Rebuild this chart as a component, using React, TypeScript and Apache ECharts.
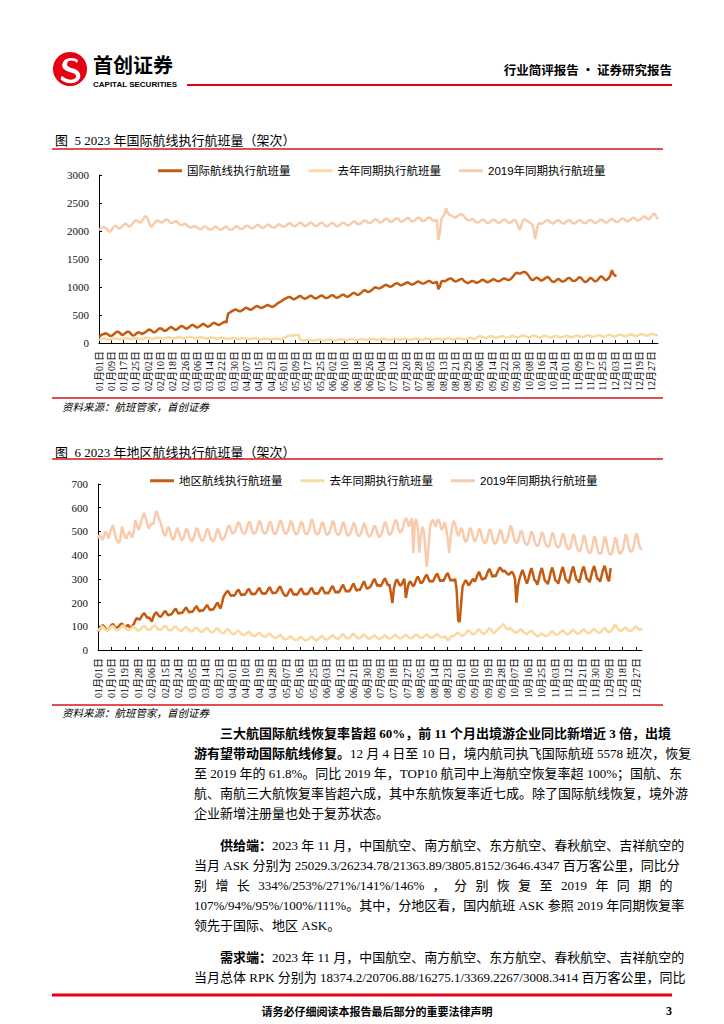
import React, { useEffect, useRef } from "react";
import * as echarts from "echarts";

// ---------- DATA ----------
const MONTH_DAYS = [31, 28, 31, 30, 31, 30, 31, 31, 30, 31, 30, 31];
const pad = (n: number) => String(n).padStart(2, "0");
const dates: string[] = [];
MONTH_DAYS.forEach((d, m) => {
  for (let i = 1; i <= d; i++) dates.push(`${pad(m + 1)}月${pad(i)}日`);
});

const intlNames = ["国际航线执行航班量", "去年同期执行航班量", "2019年同期执行航班量"];
const regNames = ["地区航线执行航班量", "去年同期执行航班量", "2019年同期执行航班量"];

// 图5: 2023 international flights (to ~Dec 3)
const intl2023 = [
  113, 130, 150, 160, 173, 165, 150,
  128, 125, 140, 165, 190, 202, 195,
  170, 143, 150, 175, 195, 202, 190,
  160, 131, 140, 160, 185, 190, 180,
  160, 175, 190, 210, 232, 240, 225,
  200, 190, 205, 230, 255, 262, 250,
  225, 215, 230, 250, 275, 285, 270,
  245, 235, 250, 270, 295, 305, 290,
  265, 255, 270, 290, 315, 325, 310,
  285, 275, 290, 305, 330, 340, 325,
  300, 290, 305, 325, 350, 362, 345,
  330, 320, 335, 350, 370, 380, 365,
  520, 540, 560, 575, 590, 600, 585,
  570, 565, 580, 600, 620, 630, 615,
  600, 595, 610, 630, 650, 660, 645,
  630, 625, 640, 655, 670, 680, 665,
  650, 645, 660, 680, 700, 720, 735,
  750, 770, 790, 800, 815, 825, 810,
  790, 780, 795, 810, 830, 840, 825,
  800, 790, 800, 815, 835, 845, 830,
  805, 795, 805, 820, 840, 850, 835,
  810, 800, 812, 825, 845, 855, 840,
  815, 805, 820, 835, 855, 865, 850,
  830, 825, 840, 860, 885, 895, 880,
  860, 860, 880, 905, 930, 945, 930,
  910, 915, 935, 955, 980, 995, 985,
  975, 980, 995, 1010, 1030, 1040, 1025,
  1010, 1005, 1020, 1040, 1060, 1070, 1055,
  1035, 1030, 1045, 1060, 1075, 1085, 1070,
  1050, 1045, 1055, 1070, 1090, 1100, 1085,
  1065, 1060, 1070, 1085, 1100, 1110, 1095,
  1075, 1070, 1080, 1095, 960, 1010, 1100,
  1110, 1100, 1115, 1130, 1145, 1155, 1140,
  1110, 1100, 1105, 1120, 1135, 1145, 1130,
  1100, 1085, 1070, 1080, 1095, 1110, 1100,
  1085, 1075, 1085, 1100, 1120, 1130, 1115,
  1095, 1085, 1095, 1110, 1130, 1140, 1125,
  1110, 1100, 1110, 1125, 1145, 1155, 1140,
  1130, 1125, 1140, 1165, 1200, 1235, 1255,
  1245, 1240, 1250, 1265, 1270, 1255, 1230,
  1190, 1150, 1125, 1130, 1150, 1170, 1155,
  1130, 1115, 1125, 1145, 1165, 1180, 1165,
  1130, 1100, 1090, 1100, 1125, 1145, 1130,
  1105, 1095, 1105, 1125, 1150, 1165, 1150,
  1120, 1105, 1110, 1130, 1160, 1175, 1160,
  1125, 1095, 1090, 1105, 1140, 1165, 1150,
  1120, 1100, 1110, 1135, 1170, 1190, 1175,
  1140, 1120, 1135, 1160, 1210, 1300, 1230,
  1205, 1195,
];

const intlLastYear = [
  55, 65, 75, 80, 78, 70, 62,
  60, 68, 78, 85, 82, 75, 68,
  65, 72, 82, 88, 85, 78, 70,
  66, 74, 84, 90, 86, 78, 72,
  70, 78, 88, 95, 90, 82, 75,
  72, 80, 90, 98, 94, 86, 78,
  75, 84, 95, 102, 98, 90, 82,
  80, 90, 100, 108, 104, 95, 88,
  82, 92, 102, 110, 106, 96, 88,
  80, 88, 98, 104, 100, 92, 84,
  76, 84, 94, 100, 96, 88, 80,
  72, 80, 90, 96, 92, 84, 76,
  70, 78, 86, 92, 88, 80, 72,
  68, 75, 84, 90, 86, 78, 70,
  66, 72, 80, 86, 82, 74, 68,
  62, 68, 76, 80, 78, 70, 64,
  60, 66, 74, 80, 76, 70, 64,
  70, 85, 100, 115, 125, 130, 128,
  135, 140, 145, 142, 138, 60, 48,
  45, 50, 55, 60, 58, 52, 48,
  45, 50, 56, 62, 60, 54, 48,
  46, 52, 58, 64, 62, 56, 50,
  48, 54, 60, 66, 64, 58, 52,
  50, 56, 62, 68, 66, 60, 54,
  50, 56, 64, 70, 68, 62, 55,
  52, 58, 66, 72, 70, 64, 56,
  52, 60, 68, 74, 70, 64, 58,
  54, 60, 68, 75, 72, 66, 58,
  55, 62, 70, 76, 74, 68, 60,
  56, 62, 70, 78, 75, 68, 60,
  58, 64, 72, 80, 76, 70, 62,
  58, 65, 74, 80, 78, 70, 63,
  60, 66, 75, 82, 80, 72, 65,
  62, 68, 78, 85, 82, 75, 68,
  65, 72, 82, 90, 88, 80, 72,
  80, 95, 110, 120, 118, 105, 95,
  90, 100, 112, 122, 118, 108, 98,
  92, 102, 114, 124, 120, 110, 100,
  95, 105, 118, 128, 124, 112, 102,
  100, 112, 125, 135, 130, 118, 108,
  100, 110, 122, 132, 128, 116, 106,
  98, 108, 120, 130, 126, 114, 104,
  96, 106, 118, 128, 124, 112, 102,
  100, 110, 122, 132, 128, 116, 106,
  102, 112, 124, 134, 130, 118, 108,
  105, 116, 128, 138, 134, 122, 112,
  108, 120, 132, 142, 138, 126, 116,
  112, 124, 136, 146, 142, 130, 120,
  116, 128, 140, 150, 146, 134, 124,
  120, 132, 144, 154, 150, 138, 128,
  124, 136, 148, 158, 154, 142, 132,
  128, 140, 152, 165, 160, 148, 140,
  138,
];

const intl2019 = [
  2018, 2040, 2060, 2075, 2060, 2040, 2000,
  1985, 2010, 2050, 2085, 2095, 2070, 2040,
  2050, 2080, 2110, 2135, 2120, 2090, 2080,
  2100, 2140, 2175, 2195, 2180, 2160, 2150,
  2180, 2220, 2265, 2250, 2200, 2120, 2075,
  2100, 2140, 2170, 2190, 2175, 2160, 2150,
  2170, 2195, 2210, 2195, 2160, 2140, 2150,
  2160, 2175, 2160, 2130, 2110, 2100, 2120,
  2130, 2110, 2080, 2070, 2060, 2075, 2090,
  2080, 2060, 2040, 2030, 2045, 2070, 2085,
  2065, 2040, 2030, 2025, 2040, 2070, 2080,
  2060, 2035, 2025, 2030, 2050, 2075, 2080,
  2050, 2030, 2020, 2030, 2055, 2080, 2085,
  2060, 2040, 2035, 2050, 2075, 2095, 2090,
  2070, 2055, 2050, 2065, 2090, 2110, 2105,
  2080, 2060, 2055, 2070, 2095, 2115, 2105,
  2080, 2065, 2060, 2075, 2100, 2120, 2110,
  2090, 2075, 2080, 2100, 2125, 2140, 2130,
  2100, 2085, 2090, 2110, 2135, 2150, 2140,
  2105, 2090, 2095, 2115, 2140, 2150, 2135,
  2100, 2085, 2095, 2115, 2140, 2150, 2135,
  2100, 2085, 2090, 2110, 2135, 2145, 2130,
  2095, 2080, 2090, 2110, 2135, 2150, 2140,
  2110, 2100, 2110, 2130, 2155, 2170, 2160,
  2130, 2120, 2130, 2150, 2175, 2190, 2180,
  2150, 2140, 2150, 2170, 2195, 2210, 2200,
  2165, 2150, 2160, 2180, 2205, 2220, 2210,
  2175, 2160, 2170, 2190, 2215, 2230, 2215,
  2180, 2165, 2175, 2195, 2220, 2235, 2220,
  2185, 2170, 2180, 2200, 2225, 2240, 2225,
  2190, 2175, 2185, 2205, 2230, 2245, 2230,
  2195, 2180, 2190, 2200, 1840, 1980, 2220,
  2260, 2300, 2410, 2330, 2290, 2280, 2270,
  2250, 2240, 2255, 2275, 2295, 2300, 2285,
  2250, 2220, 2200, 2190, 2200, 2215, 2200,
  2170, 2150, 2155, 2170, 2195, 2205, 2190,
  2160, 2140, 2150, 2170, 2195, 2205, 2190,
  2160, 2140, 2150, 2170, 2195, 2205, 2190,
  2160, 2145, 2150, 2170, 2195, 2200, 2150,
  2080, 2020, 2100, 2180, 2210, 2200, 2180,
  2160, 2140, 2120, 2040, 1857, 2000, 2130,
  2140, 2130, 2140, 2160, 2185, 2195, 2180,
  2150, 2135, 2140, 2160, 2185, 2195, 2180,
  2150, 2135, 2140, 2160, 2185, 2195, 2180,
  2150, 2135, 2140, 2160, 2185, 2195, 2180,
  2155, 2140, 2145, 2165, 2190, 2200, 2185,
  2160, 2145, 2150, 2170, 2195, 2205, 2190,
  2165, 2150, 2155, 2180, 2205, 2215, 2200,
  2175, 2160, 2165, 2190, 2215, 2225, 2210,
  2185, 2170, 2180, 2200, 2230, 2240, 2225,
  2200, 2185, 2195, 2215, 2245, 2260, 2245,
  2220, 2210, 2230, 2270, 2310, 2300, 2250,
  2210,
];

// 图6: 2023 regional flights (to ~Dec 10)
const reg2023 = [
  77, 85, 95, 105, 100, 90, 84,
  86, 95, 105, 110, 100, 92, 96,
  100, 108, 112, 104, 96, 100, 106,
  98, 95, 100, 110, 125, 135, 130,
  128, 140, 150, 155, 145, 135, 138,
  130, 120, 140, 152, 160, 150, 142,
  140, 148, 158, 165, 155, 145, 150,
  150, 158, 168, 175, 162, 152, 158,
  155, 162, 172, 180, 168, 158, 162,
  160, 168, 178, 185, 172, 162, 168,
  165, 172, 182, 190, 178, 168, 172,
  170, 180, 192, 200, 185, 175, 198,
  225, 235, 245, 250, 238, 228, 232,
  228, 236, 248, 255, 242, 230, 235,
  232, 240, 252, 258, 245, 234, 238,
  235, 244, 255, 262, 248, 236, 240,
  236, 246, 258, 265, 250, 238, 242,
  240, 250, 262, 268, 252, 238, 230,
  228, 236, 250, 258, 245, 232, 236,
  232, 240, 252, 260, 246, 234, 238,
  234, 242, 255, 262, 248, 236, 240,
  236, 245, 258, 265, 250, 238, 242,
  238, 248, 262, 270, 255, 242, 246,
  242, 252, 266, 275, 260, 246, 250,
  246, 256, 270, 280, 265, 250, 255,
  252, 262, 278, 290, 272, 258, 262,
  265, 275, 290, 300, 285, 270, 275,
  268, 278, 292, 302, 288, 272, 276,
  240, 198, 260, 285, 298, 285, 272,
  275, 288, 300, 220, 255, 282, 290,
  278, 268, 280, 298, 310, 295, 282,
  285, 296, 310, 318, 302, 288, 292,
  288, 300, 314, 322, 306, 290, 295,
  290, 302, 316, 325, 308, 292, 296,
  292, 300, 250, 125, 118, 200, 270,
  282, 295, 285, 272, 280, 292, 300,
  288, 300, 318, 330, 312, 296, 302,
  300, 315, 332, 342, 325, 308, 315,
  310, 325, 338, 348, 340, 330, 335,
  328, 320, 318, 325, 330, 320, 300,
  200, 270, 300, 320, 338, 320, 298,
  280, 300, 325, 345, 322, 295, 290,
  275, 300, 328, 346, 320, 292, 288,
  278, 302, 330, 348, 322, 294, 290,
  280, 305, 332, 350, 325, 296, 292,
  282, 308, 334, 352, 326, 298, 294,
  284, 310, 336, 352, 328, 300, 296,
  286, 312, 338, 354, 330, 302, 298,
  288, 314, 340, 355, 330, 300, 290,
  345,
];

const regLastYear = [
  80, 88, 95, 100, 92, 85, 82,
  85, 92, 98, 102, 94, 86, 84,
  86, 94, 100, 104, 96, 88, 85,
  84, 90, 96, 100, 92, 85, 82,
  85, 92, 98, 102, 95, 88, 84,
  86, 94, 100, 104, 96, 88, 85,
  84, 92, 98, 102, 94, 86, 83,
  82, 90, 96, 100, 92, 85, 82,
  80, 88, 94, 98, 90, 83, 80,
  78, 86, 92, 96, 88, 80, 77,
  76, 84, 90, 94, 86, 78, 75,
  74, 82, 88, 92, 84, 76, 72,
  70, 78, 84, 88, 80, 72, 68,
  66, 72, 78, 82, 75, 68, 64,
  62, 68, 74, 78, 70, 64, 60,
  58, 64, 70, 74, 66, 60, 56,
  55, 60, 66, 70, 62, 56, 52,
  50, 55, 60, 64, 56, 50, 46,
  44, 48, 54, 58, 50, 45, 42,
  42, 46, 52, 56, 48, 43, 40,
  42, 47, 53, 58, 50, 44, 41,
  44, 50, 56, 60, 52, 46, 43,
  46, 52, 58, 64, 56, 50, 46,
  48, 54, 62, 68, 58, 52, 48,
  50, 56, 64, 70, 60, 54, 50,
  48, 54, 62, 66, 58, 52, 48,
  48, 52, 58, 62, 56, 50, 47,
  48, 52, 58, 62, 56, 50, 48,
  50, 54, 60, 64, 58, 52, 49,
  50, 55, 60, 64, 58, 52, 50,
  51, 56, 62, 66, 60, 54, 50,
  52, 56, 62, 66, 60, 54, 51,
  53, 58, 63, 68, 62, 55, 52,
  54, 58, 52, 40, 48, 56, 60,
  58, 64, 70, 74, 68, 62, 60,
  64, 70, 78, 84, 76, 70, 66,
  68, 75, 82, 88, 80, 72, 68,
  70, 78, 86, 92, 84, 76, 72,
  76, 84, 90, 96, 100, 108, 104,
  92, 86, 90, 94, 86, 80, 76,
  72, 78, 84, 88, 80, 74, 70,
  66, 72, 78, 82, 74, 68, 64,
  56, 60, 66, 70, 64, 60, 58,
  62, 68, 75, 80, 72, 66, 64,
  66, 72, 78, 84, 76, 70, 66,
  68, 74, 80, 86, 78, 72, 68,
  70, 76, 82, 88, 80, 74, 70,
  72, 78, 85, 90, 82, 76, 72,
  74, 80, 88, 94, 86, 78, 75,
  78, 86, 95, 108, 98, 88, 82,
  80, 86, 92, 96, 88, 82, 80,
  82, 88, 95, 100, 92, 86, 84,
  92,
];

const reg2019 = [
  470, 485, 475, 465, 480, 500, 490,
  470, 495, 510, 527, 500, 470, 460,
  451, 470, 520, 500, 475, 470, 490,
  500, 485, 475, 500, 548, 530, 506,
  520, 545, 565, 578, 555, 530, 512,
  525, 535, 530, 560, 586, 570, 550,
  535, 510, 490, 480, 500, 520, 505,
  480, 465, 470, 495, 515, 500, 478,
  462, 470, 490, 512, 505, 480, 462,
  460, 472, 495, 515, 505, 480, 465,
  460, 470, 492, 512, 502, 478, 463,
  458, 468, 490, 512, 500, 476, 462,
  470, 478, 500, 520, 525, 505, 490,
  495, 505, 525, 540, 530, 505, 492,
  490, 500, 522, 542, 535, 505, 490,
  492, 502, 525, 545, 535, 505, 492,
  490, 500, 522, 542, 532, 502, 488,
  492, 505, 528, 548, 538, 508, 492,
  490, 500, 522, 545, 535, 505, 490,
  488, 498, 520, 542, 532, 502, 488,
  490, 500, 525, 552, 538, 505, 490,
  486, 496, 518, 540, 530, 500, 486,
  488, 498, 520, 545, 535, 502, 488,
  485, 495, 518, 540, 528, 498, 484,
  484, 494, 515, 538, 526, 496, 482,
  482, 492, 512, 535, 522, 494, 480,
  478, 488, 508, 525, 515, 490, 476,
  482, 495, 518, 540, 530, 500, 485,
  490, 505, 530, 550, 540, 510, 495,
  500, 515, 540, 557, 545, 520, 540,
  555, 409, 540, 552, 515, 410, 480,
  520, 500, 430, 350, 420, 510, 540,
  550, 535, 520, 545, 550, 530, 505,
  520, 540, 510, 470, 409, 480, 520,
  545, 530, 500, 480, 495, 515, 505,
  470, 455, 465, 490, 515, 505, 475,
  458, 465, 488, 512, 502, 472, 455,
  450, 460, 485, 510, 500, 470, 452,
  448, 458, 482, 508, 498, 468, 450,
  455, 470, 495, 525, 512, 480, 460,
  450, 458, 480, 505, 495, 465, 448,
  442, 450, 475, 500, 490, 460, 444,
  438, 446, 470, 498, 488, 456, 440,
  435, 442, 468, 495, 485, 452, 436,
  432, 440, 465, 492, 482, 448, 432,
  425, 432, 458, 488, 478, 442, 425,
  415, 422, 450, 485, 472, 435, 418,
  408, 415, 445, 480, 468, 430, 410,
  405, 412, 442, 478, 465, 428, 408,
  402, 410, 440, 475, 462, 425, 405,
  410, 420, 450, 488, 475, 438, 418,
  415, 425, 455, 492, 480, 445, 425,
  430,
];

// ---------- STYLE ----------
const SERIF = "'Liberation Serif', 'Noto Sans CJK SC', serif";
const CJK = "'Noto Sans CJK SC', sans-serif";
const LEGEND_FONT = "'Liberation Sans', 'Noto Sans CJK SC', sans-serif";
const C_ORANGE = "#C55A11";
const C_YELLOW = "#FAD9A0";
const C_SALMON = "#F8CBAD";
const RED = "#D7141D";

const S_PATH =
  "M74 24 C60 14 34 16 28 34 C22 52 44 58 58 62 C70 66 72 76 60 80 C48 84 34 78 26 70 L22 80 C34 92 58 96 72 86 C86 76 82 56 64 50 C50 46 38 42 42 32 C46 22 62 24 70 32 Z";

let registered = false;
function registerLogo() {
  if (registered) return;
  echarts.graphic.registerShape("logoS", echarts.graphic.extendPath(S_PATH, {}) as any);
  registered = true;
}

function txt(x: number, y: number, text: string, extra: any = {}) {
  return {
    type: "text",
    x,
    y,
    style: {
      text,
      fontSize: 13,
      fontFamily: SERIF,
      fill: "#000",
      verticalAlign: "middle",
      ...extra,
    },
  };
}

function hline(x1: number, x2: number, y: number, w: number, color = RED) {
  return { type: "line", shape: { x1, y1: y, x2, y2: y }, style: { stroke: color, lineWidth: w } };
}

const boldRich = { b: { fontWeight: "bold", fontSize: 13, fontFamily: SERIF, fill: "#000" } };

function spreadLine(y: number) {
  // justified line with spaces as in the source
  const parts: [number, string][] = [
    [194, "别"], [215.4, "增"], [236.8, "长"], [258.2, "334%/253%/271%/141%/146%"],
    [432.6, "，"], [454, "分"], [475.4, "别"], [496.8, "恢"], [518.2, "复"], [539.6, "至"],
    [561, "2019"], [595.4, "年"], [616.8, "同"], [638.2, "期"], [659.6, "的"],
  ];
  return parts.map(([x, t]) => txt(x, y, t));
}

function buildOption() {
  const lineSeries = (name: string, data: number[], color: string, idx: number) => ({
    name,
    type: "line",
    xAxisIndex: idx,
    yAxisIndex: idx,
    data,
    symbol: "none",
    showSymbol: false,
    lineStyle: { color, width: 2.5 },
    itemStyle: { color },
  });

  const xAxis = (idx: number, interval: number) => ({
    type: "category",
    gridIndex: idx,
    data: dates,
    boundaryGap: false,
    axisLine: { lineStyle: { color: "#000", width: 1 } },
    axisTick: { inside: true, length: 3, interval, lineStyle: { color: "#000" } },
    axisLabel: { interval, rotate: 90, fontSize: 10, color: "#000", margin: 8, fontFamily: SERIF },
  });

  const yAxis = (idx: number, max: number, interval: number) => ({
    type: "value",
    gridIndex: idx,
    min: 0,
    max,
    interval,
    axisLine: { show: true, lineStyle: { color: "#000", width: 1 } },
    axisTick: { show: true, inside: true, length: 3, lineStyle: { color: "#000" } },
    splitLine: { show: false },
    axisLabel: {
      fontSize: 11,
      color: "#111",
      margin: 10,
      fontFamily: SERIF,
      formatter: (v: number) => String(v),
    },
  });

  const legend = (names: string[], left: number, top: number) => ({
    left,
    top,
    orient: "horizontal",
    data: names,
    icon: "rect",
    itemWidth: 24,
    itemHeight: 3,
    itemGap: 18,
    textStyle: { fontSize: 11.5, color: "#000", fontFamily: LEGEND_FONT },
    selectedMode: false,
  });

  const graphics: any[] = [
    // header
    { type: "circle", shape: { cx: 70, cy: 69, r: 17 }, style: { fill: "#E50012" } },
    { type: "logoS", x: 53, y: 52, scaleX: 0.34, scaleY: 0.34, style: { fill: "#fff" } },
    txt(93, 64, "首创证券", { fontSize: 20, fontWeight: "bold", fontFamily: CJK }),
    txt(93, 84.5, "CAPITAL SECURITIES", { fontSize: 8, fontWeight: "bold", fontFamily: "'Liberation Sans', sans-serif" }),
    hline(187, 672, 85, 2, "#E60012"),
    txt(672, 69, "行业简评报告 · 证券研究报告", { fontSize: 12.5, fontWeight: "bold", fontFamily: CJK, align: "right" }),

    // figure 5
    txt(55, 140, "图  5 2023 年国际航线执行航班量（架次）", { fontFamily: SERIF }),
    hline(52, 663, 149, 1.5),
    hline(52, 663, 398, 1.5),
    txt(62, 407, "资料来源：航班管家，首创证券", { fontSize: 10.5, fontStyle: "italic" }),

    // figure 6
    txt(55, 452, "图  6 2023 年地区航线执行航班量（架次）", { fontFamily: SERIF }),
    hline(52, 663, 459, 1.5),
    hline(52, 663, 705, 1.5),
    txt(62, 713, "资料来源：航班管家，首创证券", { fontSize: 10.5, fontStyle: "italic" }),

    // body paragraph 1
    txt(220, 733, "{b|三大航国际航线恢复率皆超 60%，前 11 个月出境游企业同比新增近 3 倍，出境}", { rich: boldRich }),
    txt(194, 753, "{b|游有望带动国际航线修复。}12 月 4 日至 10 日，境内航司执飞国际航班 5578 班次，恢复", { rich: boldRich }),
    txt(194, 773, "至 2019 年的 61.8%。同比 2019 年，TOP10 航司中上海航空恢复率超 100%；国航、东"),
    txt(194, 793, "航、南航三大航恢复率皆超六成，其中东航恢复率近七成。除了国际航线恢复，境外游"),
    txt(194, 813, "企业新增注册量也处于复苏状态。"),

    // paragraph 2
    txt(220, 845, "{b|供给端：}2023 年 11 月，中国航空、南方航空、东方航空、春秋航空、吉祥航空的", { rich: boldRich }),
    txt(194, 865, "当月 ASK 分别为 25029.3/26234.78/21363.89/3805.8152/3646.4347 百万客公里，同比分"),
    ...spreadLine(885),
    txt(194, 905, "107%/94%/95%/100%/111%。其中，分地区看，国内航班 ASK 参照 2019 年同期恢复率"),
    txt(194, 925, "领先于国际、地区 ASK。"),

    // paragraph 3
    txt(220, 957, "{b|需求端：}2023 年 11 月，中国航空、南方航空、东方航空、春秋航空、吉祥航空的", { rich: boldRich }),
    txt(194, 977, "当月总体 RPK 分别为 18374.2/20706.88/16275.1/3369.2267/3008.3414 百万客公里，同比"),

    // footer
    hline(52, 672, 995, 3, "#E60012"),
    txt(377, 1011, "请务必仔细阅读本报告最后部分的重要法律声明", { fontSize: 11, fontWeight: "bold", fontFamily: CJK, align: "center" }),
    txt(672, 1011, "3", { fontSize: 12, fontWeight: "bold", align: "right" }),
  ];

  return {
    animation: false,
    backgroundColor: "#fff",
    textStyle: { fontFamily: SERIF },
    grid: [
      { left: 99, top: 175, width: 559, height: 168, containLabel: false },
      { left: 98, top: 484, width: 544, height: 166, containLabel: false },
    ],
    xAxis: [xAxis(0, 7), xAxis(1, 8)],
    yAxis: [yAxis(0, 3000, 500), yAxis(1, 700, 100)],
    legend: [legend(intlNames, 153, 160), legend(regNames, 145, 470)],
    series: [
      lineSeries(intlNames[0], intl2023, C_ORANGE, 0),
      lineSeries(intlNames[1], intlLastYear, C_YELLOW, 0),
      lineSeries(intlNames[2], intl2019, C_SALMON, 0),
      lineSeries(regNames[0], reg2023, C_ORANGE, 1),
      lineSeries(regNames[1], regLastYear, C_YELLOW, 1),
      lineSeries(regNames[2], reg2019, C_SALMON, 1),
    ],
    graphic: graphics,
  };
}

export default function App() {
  const ref = useRef<HTMLDivElement>(null);
  useEffect(() => {
    document.body.style.margin = "0";
    registerLogo();
    if (!ref.current) return;
    const chart = echarts.init(ref.current, undefined, { renderer: "svg" });
    chart.setOption(buildOption() as any);
    return () => chart.dispose();
  }, []);
  return <div ref={ref} style={{ width: 724, height: 1024, position: "absolute", left: 0, top: 0 }} />;
}
